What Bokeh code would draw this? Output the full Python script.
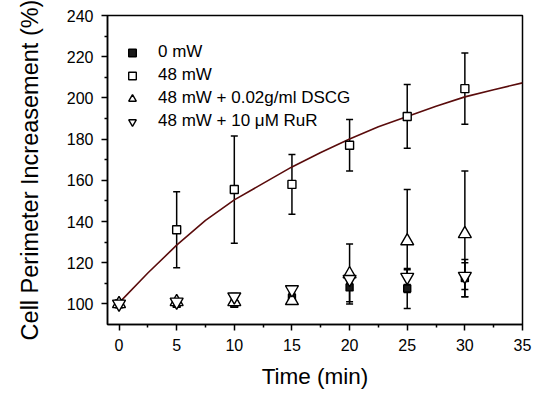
from bokeh.plotting import figure
from bokeh.models import (ColumnDataSource, Whisker, TeeHead, Legend, LegendItem,
                          FixedTicker, Range1d)
from bokeh.embed import file_html
from bokeh.resources import INLINE

# ---------------- data ----------------
time = [0, 5, 10, 15, 20, 25, 30]

mw0 = [100, 100, 100, 103, 108, 107.5, 112.5]
mw0_err = [0.5, 1.5, 1.5, 2, 7, 9.7, 9]

mw48 = [100, 136, 155.5, 158, 177, 191, 204.5]
mw48_err = [0, 18.5, 26, 14.5, 12.5, 15.5, 17.3]

dscg = [100, 101, 101, 101.5, 114.5, 130.5, 134]
dscg_err = [0.5, 1, 1, 1.5, 14.6, 25, 30.5]

rur = [100, 101, 103.5, 107, 112, 113, 113.5]
rur_err = [0.5, 1, 1.5, 1, 2, 3.6, 6.5]

fit_t = [0, 2.5, 5, 7.5, 10, 12.5, 15, 17.5, 20, 22.5, 25, 27.5, 30, 32.5, 35]
fit_y = [100.5, 115, 128.5, 140.5, 150.5, 158.5, 166.5, 173.5, 180, 186, 191,
         196, 200.5, 204, 207.3]

x_ticks = [0, 5, 10, 15, 20, 25, 30, 35]
x_minor = [2.5, 7.5, 12.5, 17.5, 22.5, 27.5, 32.5]
y_ticks = [100, 120, 140, 160, 180, 200, 220, 240]
y_minor = [110, 130, 150, 170, 190, 210, 230]

labels = ["0 mW", "48 mW", "48 mW + 0.02g/ml DSCG", "48 mW + 10 \u03bcM RuR"]

FONT = "Liberation Sans"

p = figure(width=538, height=391, output_backend="svg", toolbar_location=None,
           x_range=Range1d(-1, 35), y_range=Range1d(90, 240),
           min_border_left=107, min_border_right=16, min_border_top=15,
           min_border_bottom=67)
p.grid.visible = False
p.outline_line_color = "black"
p.outline_line_width = 1.5
p.background_fill_color = "white"
p.border_fill_color = "white"

for ax in (p.xaxis[0], p.yaxis[0]):
    ax.axis_line_width = 1.5
    ax.major_tick_line_width = 1.5
    ax.minor_tick_line_width = 1.5
    ax.major_tick_in = 0
    ax.major_tick_out = 6
    ax.minor_tick_in = 0
    ax.minor_tick_out = 3
    ax.major_label_text_font = FONT
    ax.major_label_text_font_size = "16px"
    ax.major_label_text_color = "black"
    ax.axis_label_text_font = FONT
    ax.axis_label_text_font_style = "normal"
    ax.axis_label_text_color = "black"
    ax.major_label_standoff = 8

p.xaxis.axis_label_text_font_size = "22.5px"
p.yaxis.axis_label_text_font_size = "23.5px"
p.xaxis.ticker = FixedTicker(ticks=x_ticks, minor_ticks=x_minor)
p.yaxis.ticker = FixedTicker(ticks=y_ticks, minor_ticks=y_minor)
p.xaxis.axis_label = "Time (min)"
p.yaxis.axis_label = "Cell Perimeter Increasement (%)"
p.xaxis.axis_label_standoff = 10
p.yaxis.axis_label_standoff = 21

# fitted curve
p.line(fit_t, fit_y, line_color="#5a0c0c", line_width=1.6)

series = [
    (mw0, mw0_err, "square", 7, "#1a1a1a"),
    (mw48, mw48_err, "square", 8, "white"),
    (dscg, dscg_err, "triangle", 13, "white"),
    (rur, rur_err, "inverted_triangle", 13, "white"),
]

# error bars
for vals, errs, _, _, _ in series:
    src = ColumnDataSource(dict(
        x=time,
        lo=[v - e for v, e in zip(vals, errs)],
        hi=[v + e for v, e in zip(vals, errs)],
    ))
    w = Whisker(source=src, base="x", lower="lo", upper="hi",
                line_color="black", line_width=1.5,
                upper_head=TeeHead(size=7, line_color="black", line_width=1.5),
                lower_head=TeeHead(size=7, line_color="black", line_width=1.5))
    p.add_layout(w)

items = []
for (vals, errs, marker, size, fill), lab in zip(series, labels):
    r = p.scatter(time, vals, marker=marker, size=size, fill_color=fill,
                  line_color="black", line_width=1.4)
    items.append(LegendItem(label=lab, renderers=[r]))

legend = Legend(items=items, location=(5, 193), border_line_color=None,
                background_fill_alpha=0, padding=4, margin=0, spacing=3,
                glyph_width=40, glyph_height=19, label_height=19,
                label_standoff=6, label_text_font=FONT,
                label_text_font_size="17px", label_text_color="black")
p.add_layout(legend)

open("out.html", "w").write(file_html(p, INLINE))
